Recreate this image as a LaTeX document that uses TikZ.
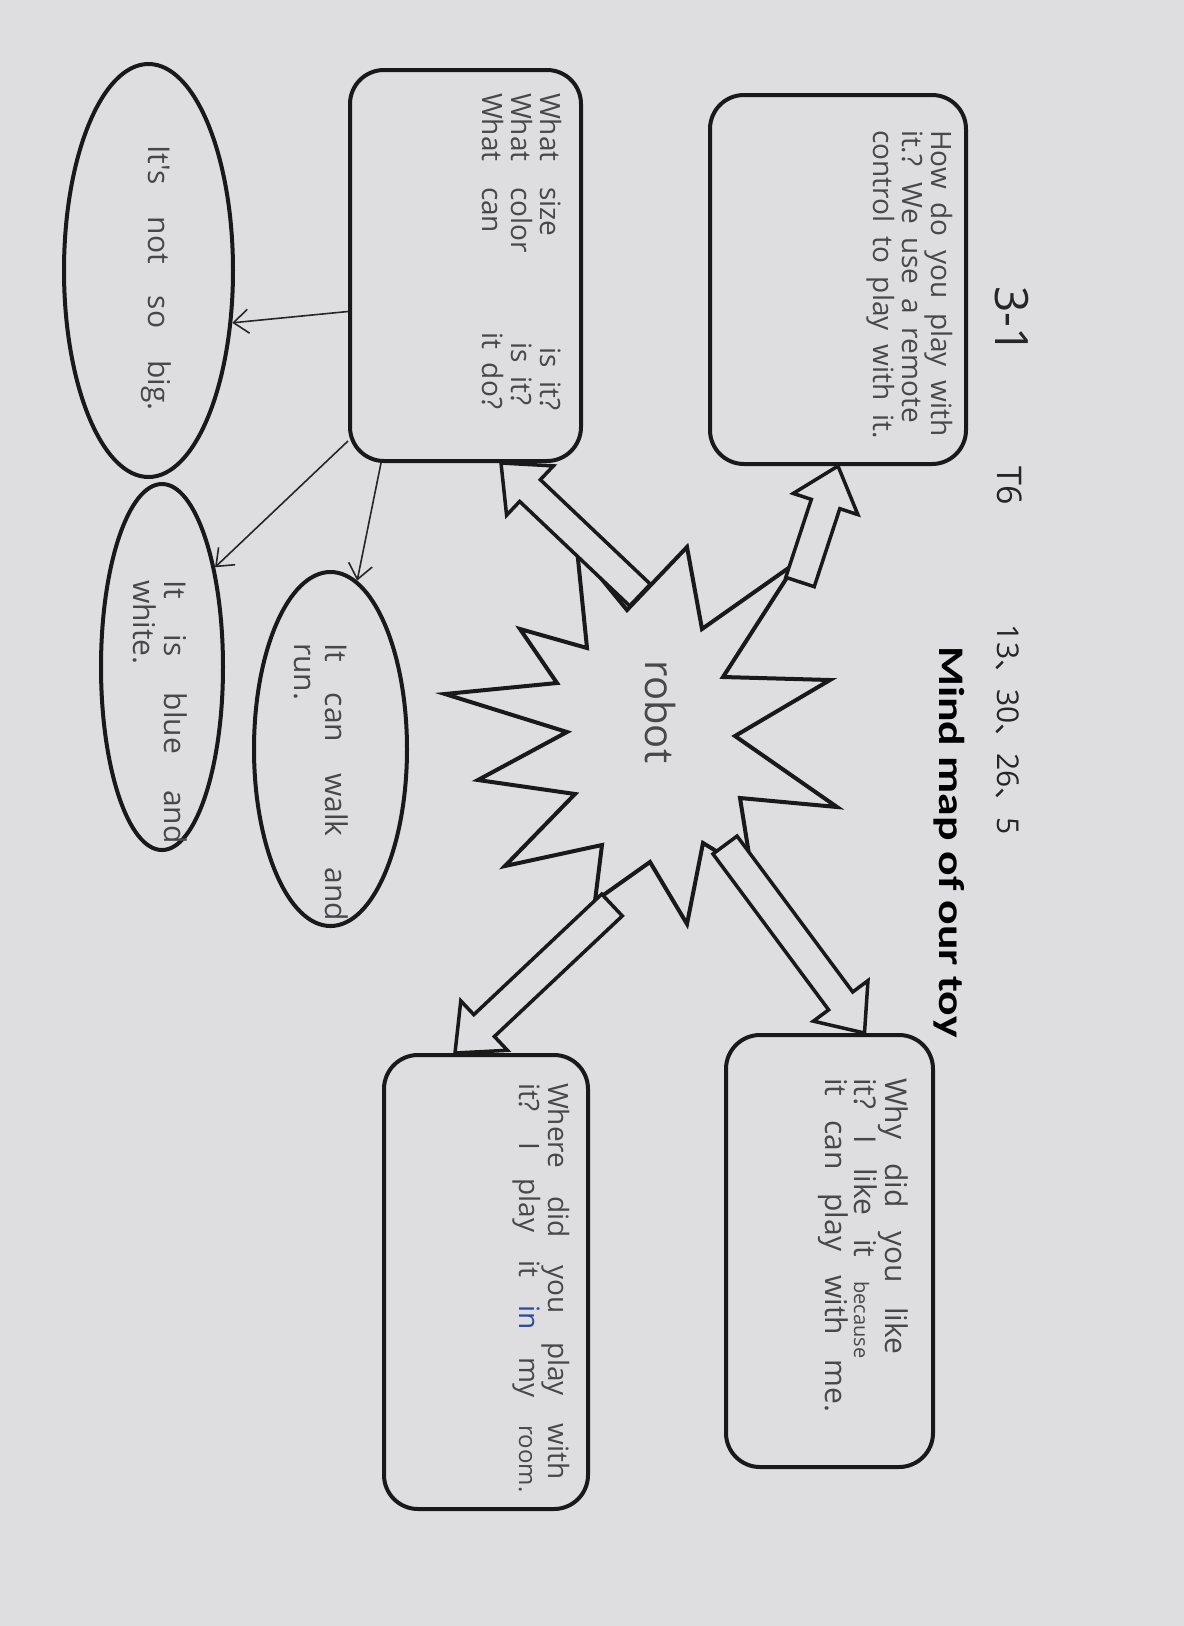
\documentclass[tikz,border=0pt]{standalone}
\usepackage{fontspec}
\usepackage{graphicx}
\setmainfont{Open Sans}
\newfontfamily\handfont{Open Sans}
\newfontfamily\titlefont{Carlito}
\newfontfamily\cjkfont{Noto Sans CJK SC}
\usetikzlibrary{arrows.meta,positioning,calc,shapes.geometric}
\definecolor{paper}{RGB}{222,222,224}
\definecolor{pencil}{RGB}{72,72,76}
\definecolor{inkblue}{RGB}{40,75,160}
\tikzset{
  outline/.style={draw=black!90, line width=4pt, fill=paper},
  qbox/.style={outline, rectangle, rounded corners=34pt, rotate=-90, inner sep=0pt,
    font=\handfont\fontsize{28}{29}\selectfont, text=pencil},
  oval/.style={outline, ellipse, rotate=-90, inner sep=0pt,
    font=\handfont\fontsize{30}{31}\selectfont, text=pencil},
  starline/.style={draw=black!90, line width=4pt, fill=paper, line join=miter},
  blockarrow/.style={draw=black!90, line width=3.5pt, fill=paper, line join=miter},
  thinarrow/.style={-{Straight Barb[length=15pt,width=24pt]}, line width=1.6pt, black!85},
  header/.style={rotate=-90, font=\handfont\fontsize{34}{36}\selectfont, text=black!85},
}
% text block inside a shape: x offset, first baseline, word space, lines
\newcommand{\handtext}[4]{%
  \makebox[0pt][l]{\hspace*{#1}\raisebox{#2}[0pt][0pt]{%
    \parbox[t]{460pt}{\raggedright\spaceskip=#3 plus 4pt\relax #4}}}}
% hollow block arrow from tail to tip
\newcommand{\hollowarrow}[2]{%
  \coordinate (neck) at ($(#2)!40pt!(#1)$);
  \draw[blockarrow] ($(#1)!15pt!90:(#2)$) -- ($(neck)!15pt!90:(#2)$)
    -- ($(neck)!34pt!90:(#2)$) -- (#2) -- ($(neck)!34pt!-90:(#2)$)
    -- ($(neck)!15pt!-90:(#2)$) -- ($(#1)!15pt!-90:(#2)$) -- cycle;
}
\newcommand{\dunhao}{{\cjkfont 、}}

\begin{document}
\begin{tikzpicture}[x=1pt, y=-1pt]
  % Paper
  \useasboundingbox (0,0) rectangle (1184,1626);
  \fill[paper] (0,0) rectangle (1184,1626);

  % Header
  \node[header, font=\handfont\fontsize{46}{48}\selectfont] (class) at (1012,320) {3-1};
  \node[header] (team) at (1010,486) {T6};
  \node[header, font=\handfont\fontsize{30}{32}\selectfont] (numbers) at (1008,730)
    {13\dunhao 30\dunhao 26\dunhao 5};
  \node[rotate=-90, font=\titlefont\bfseries\fontsize{36}{40}\selectfont] (title) at (949,842)
    {\scalebox{1.27}[1]{Mind map of our toy}};

  % Question boxes
  \node[qbox, minimum width=369pt, minimum height=256pt] (howbox) at (838,279.5)
    {\handtext{-149.5pt}{93pt}{14pt}{How do you play with\\it.? We use a remote\\control to play with it.}};
  \node[qbox, minimum width=391pt, minimum height=231pt] (whatbox) at (465.5,265.5)
    {\handtext{-172.5pt}{74.5pt}{14pt}{%
      \makebox[94pt][l]{What}\makebox[160pt][l]{size}is it?\\
      \makebox[94pt][l]{What}\makebox[155pt][l]{color}is it?\\
      \makebox[94pt][l]{What}\makebox[145pt][l]{can}it do?}};
  \node[qbox, minimum width=432pt, minimum height=207pt,
    font=\handfont\fontsize{30}{29}\selectfont] (whybox) at (829.5,1251)
    {\handtext{-173pt}{55.5pt}{24pt}{Why did you like\\it? I like it {\fontsize{20}{20}\selectfont because}\\it can play with me.}};
  \node[qbox, minimum width=454pt, minimum height=204pt] (wherebox) at (486,1282)
    {\handtext{-199pt}{62pt}{28pt}{Where did you play with\\it? I play it \textcolor{inkblue}{in} my {\fontsize{24}{24}\selectfont room.}}};

  % Answer ovals
  \node[oval, minimum width=413pt, minimum height=169pt] (bigoval) at (148.5,270.5)
    {\handtext{-125.5pt}{-0.5pt}{32pt}{It's not so big.}};
  \node[oval, minimum width=366pt, minimum height=122pt] (blueoval) at (162,667)
    {\handtext{-87pt}{2pt}{36pt}{It is blue and\\white.}};
  \node[oval, minimum width=354pt, minimum height=153pt] (walkoval) at (330.5,749)
    {\handtext{-106pt}{-5.5pt}{31pt}{It can walk and\\run.}};

  % Star
  \draw[starline] (577,549) -- (627,610) -- (687,547) -- (702,629) -- (797,562)
    -- (723,677) -- (830,680) -- (735,736) -- (837,807) -- (740,798)
    -- (752,873) -- (703,843) -- (687,924) -- (650,862) -- (595,901)
    -- (602,845) -- (505,866) -- (575,794) -- (478,780) -- (567,732)
    -- (445,694) -- (557,683) -- (520,629) -- (587,648) -- cycle;
  \node[rotate=-90, font=\handfont\fontsize{40}{40}\selectfont, text=pencil] (robot) at (660,712) {robot};

  % Block arrows from the star
  \coordinate (howtail) at (800,582);
  \coordinate (whattail) at (640,595);
  \coordinate (whytail) at (725,845);
  \coordinate (wheretail) at (612,905);
  \coordinate (howtip) at (howbox.east);
  \coordinate (whattip) at ([xshift=153pt]whatbox.south east);
  \coordinate (whytip) at ([xshift=35pt]whybox.west);
  \coordinate (wheretip) at ([xshift=-31pt]wherebox.west);
  \hollowarrow{howtail}{howtip}
  \hollowarrow{whattail}{whattip}
  \hollowarrow{whytail}{whytip}
  \hollowarrow{wheretail}{wheretip}

  % Thin arrows to the answers
  \draw[thinarrow] ([yshift=-46pt]whatbox.south) -- (bigoval.58);
  \draw[thinarrow] ([yshift=22pt]whatbox.south east) -- (blueoval.152);
  \draw[thinarrow] ([xshift=33pt]whatbox.south east) -- (walkoval.171);
\end{tikzpicture}
\end{document}
